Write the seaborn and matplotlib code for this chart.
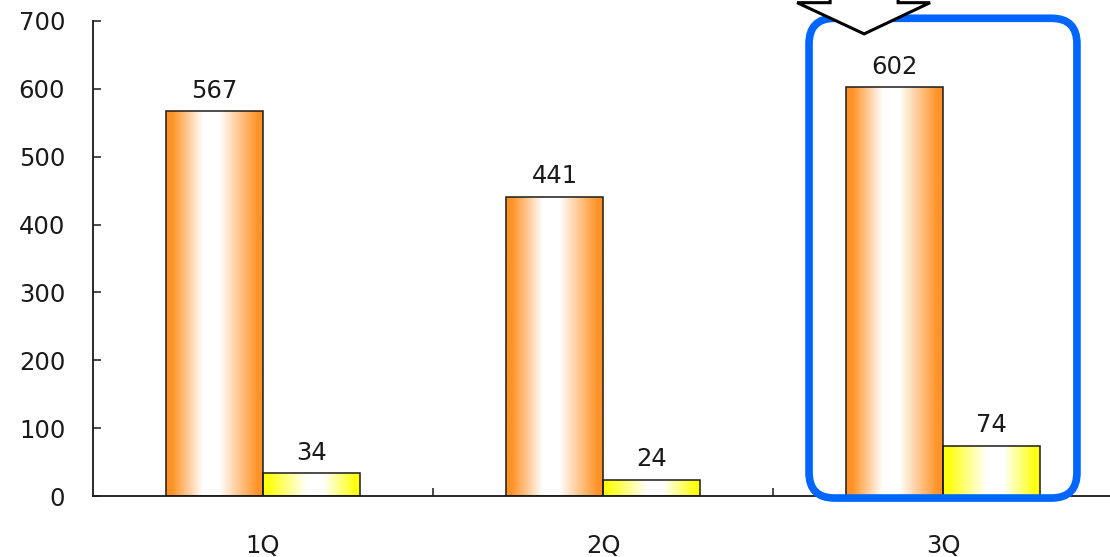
import numpy as np
import pandas as pd
import matplotlib
matplotlib.use("Agg")
import matplotlib.pyplot as plt
from matplotlib.colors import LinearSegmentedColormap, to_rgb
from matplotlib.patches import FancyBboxPatch, Polygon
import seaborn as sns

# Quarterly figures for the two series
quarters = ["1Q", "2Q", "3Q"]
series_a = [567, 441, 602]
series_b = [34, 24, 74]
series_names = ["Series A", "Series B"]
y_ticks = [0, 100, 200, 300, 400, 500, 600, 700]

df = pd.DataFrame({
    "quarter": quarters * 2,
    "value": series_a + series_b,
    "series": [series_names[0]] * 3 + [series_names[1]] * 3,
})

ORANGE = "#FF9226"
YELLOW = "#FFFF10"
BLUE = "#0066FF"
INK = "#1a1a1a"
FS = 17.5

sns.set_theme(style="white")
plt.rcParams["font.family"] = ["DejaVu Sans"]

fig = plt.figure(figsize=(11.10, 5.57), dpi=100)
ax = fig.add_axes([93 / 1110, 61 / 557, 1020 / 1110, 475 / 557])

sns.barplot(data=df, x="quarter", y="value", hue="series",
            palette=[ORANGE, YELLOW], width=0.57, dodge=True,
            legend=False, ax=ax, saturation=1)


def gradient_cmap(color, lo, hi):
    # horizontal shading: solid at the edges, white band in the middle
    c = np.array(to_rgb(color))
    w = np.ones(3)
    return LinearSegmentedColormap.from_list(
        "g", [(0.0, c), (0.06, c), (lo, w), (hi, w), (0.95, c), (1.0, c)])


cmaps = {to_rgb(ORANGE): gradient_cmap(ORANGE, 0.38, 0.55),
         to_rgb(YELLOW): gradient_cmap(YELLOW, 0.45, 0.62)}

ramp = np.linspace(0, 1, 256).reshape(1, -1)
bars = [p for p in ax.patches if p.get_height() > 0]
for p in bars:
    fc = tuple(p.get_facecolor()[:3])
    key = min(cmaps, key=lambda k: sum((a - b) ** 2 for a, b in zip(k, fc)))
    x0, y0 = p.get_x(), p.get_y()
    w, h = p.get_width(), p.get_height()
    im = ax.imshow(ramp, cmap=cmaps[key], aspect="auto",
                   extent=(x0, x0 + w, y0, y0 + h), zorder=2,
                   interpolation="bilinear")
    im.set_clip_path(p)
    p.set_facecolor("none")
    p.set_edgecolor(INK)
    p.set_linewidth(1.1)
    p.set_zorder(3)
    ax.annotate(f"{int(round(h))}", (x0 + w / 2, y0 + h),
                xytext=(0, 6), textcoords="offset points",
                ha="center", va="bottom", fontsize=FS, color=INK)

ax.set_xlim(-0.5, 2.5)
ax.set_ylim(0, 700)
ax.set_yticks(y_ticks)
ax.set_xlabel("")
ax.set_ylabel("")

for side in ("top", "right"):
    ax.spines[side].set_visible(False)
for side in ("left", "bottom"):
    ax.spines[side].set_color(INK)
    ax.spines[side].set_linewidth(1.3)

ax.tick_params(axis="y", direction="in", length=6, width=1.1,
               color=INK, labelsize=FS, labelcolor=INK, pad=20, left=True)
ax.tick_params(axis="x", which="major", length=0, labelsize=FS,
               labelcolor=INK, pad=27)
ax.set_xticks([0.5, 1.5], minor=True)
ax.tick_params(axis="x", which="minor", direction="in", length=6,
               width=1.1, color=INK, bottom=True)

# Highlight frame around the third quarter
box = FancyBboxPatch((2 - 0.394, -3), 0.788, 707,
                     boxstyle="round,pad=0,rounding_size=0.075",
                     mutation_aspect=502, fill=False, edgecolor=BLUE,
                     linewidth=5.5, clip_on=False, zorder=5)
ax.add_patch(box)

# Downward block arrow pointing at the highlighted quarter
arrow = Polygon([(1.668, 780), (1.668, 727), (1.571, 727), (1.768, 681),
                 (1.962, 727), (1.868, 727), (1.868, 780)],
                closed=True, facecolor="white", edgecolor="black",
                linewidth=2.2, clip_on=False, zorder=6, joinstyle="miter")
ax.add_patch(arrow)

fig.savefig("out.png", dpi=100)
